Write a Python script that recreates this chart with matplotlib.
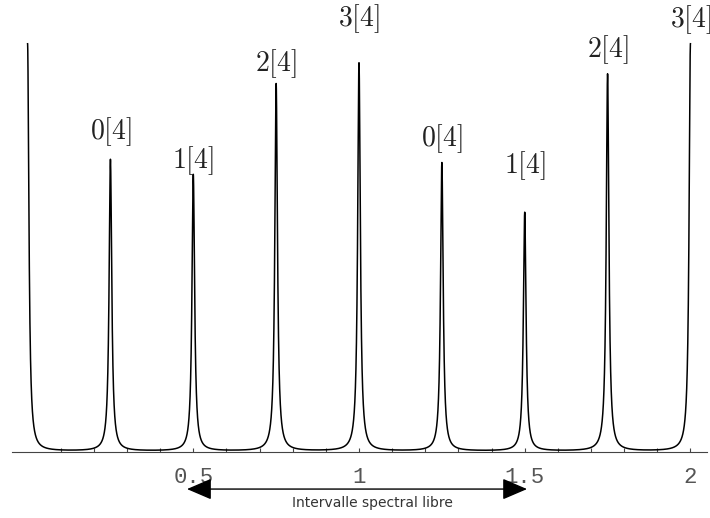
import numpy as np
import matplotlib.pyplot as plt

plt.rcParams['mathtext.fontset'] = 'cm'

# peak positions (frequency, in units of the free spectral range) and relative heights
peak_pos = [0.0, 0.25, 0.5, 0.75, 1.0, 1.25, 1.5, 1.75, 2.0]
peak_height = [1.0, 0.716, 0.679, 0.902, 0.953, 0.708, 0.586, 0.926, 1.0]
peak_labels = ['0[4]', '1[4]', '2[4]', '3[4]', '0[4]', '1[4]', '2[4]', '3[4]']
label_y = [0.745, 0.674, 0.912, 1.022, 0.728, 0.660, 0.946, 1.020]
tick_vals = [0.5, 1, 1.5, 2]
tick_text = ['0.5', '1', '1.5', '2']
width = 0.0048


def spectrum(x):
    y = np.zeros_like(x)
    for p, h in zip(peak_pos, peak_height):
        y += h / (1 + ((x - p) / width) ** 2)
    return y


fig = plt.figure(figsize=(7.1, 5.18), dpi=100)
ax = fig.add_axes([12 / 710, 66 / 518, 695 / 710, 452 / 518])

x = np.linspace(0, 2, 20001)
ax.plot(x, spectrum(x), color='black', lw=1.1)

ax.set_xlim(-0.047, 2.05)
ax.set_ylim(-0.002, 452 / 408)

for s in ['left', 'right', 'top']:
    ax.spines[s].set_visible(False)
ax.spines['bottom'].set_color('#444444')
ax.set_yticks([])
ax.set_xticks(tick_vals)
ax.set_xticklabels(tick_text, family='Liberation Mono', fontsize=16, color='#555555')
ax.set_xticks(np.arange(0.1, 2.01, 0.1), minor=True)
ax.tick_params(axis='x', which='both', direction='in', length=3, width=0.8,
               color='#444444', pad=11)

for p, lab, ly in zip(peak_pos[1:], peak_labels, label_y):
    ax.text(p, ly, '$' + lab + '$', ha='center', va='bottom', fontsize=20,
            color='#222222', clip_on=False)

trans = ax.get_xaxis_transform()
ax.annotate('', xy=(0.481, -0.082), xytext=(1.507, -0.082), xycoords=trans,
            textcoords=trans,
            arrowprops=dict(arrowstyle='<|-|>,head_length=0.7,head_width=0.3',
                            color='black', lw=1.0,
                            mutation_scale=22, shrinkA=0, shrinkB=0))
ax.text(1.04, -0.112, 'Intervalle spectral libre', transform=trans, ha='center',
        va='center', fontsize=10, color='#333333', family='DejaVu Sans')

fig.savefig('out.png', dpi=100)
